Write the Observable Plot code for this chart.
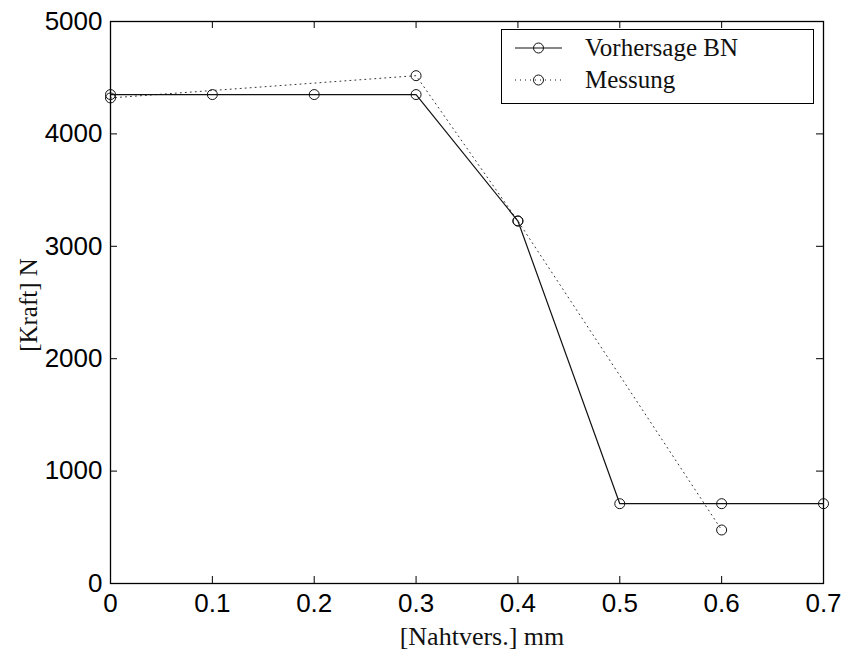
<!DOCTYPE html>
<html>
<head>
<meta charset="utf-8">
<script src="https://cdn.jsdelivr.net/npm/d3@7"></script>
<script src="https://cdn.jsdelivr.net/npm/@observablehq/plot@0.6"></script>
<style>
  html, body { margin: 0; padding: 0; background: #fff; }
  #wrap { position: relative; width: 844px; height: 650px; }
  #legend { position: absolute; left: 501px; top: 29px; width: 313px; height: 75px;
    border: 1.3px solid #000; background: #fff; box-sizing: border-box;
    font-family: "Liberation Serif", "Times New Roman", serif; font-size: 25px; color: #111; }
  .row { position: absolute; left: 0; height: 32px; display: flex; align-items: center; }
  .row svg { margin-left: 13px; margin-right: 22px; }
</style>
</head>
<body>
<div id="wrap"></div>
<script>
const xTicks = [0, 0.1, 0.2, 0.3, 0.4, 0.5, 0.6, 0.7];
const yTicks = [0, 1000, 2000, 3000, 4000, 5000];

const vorhersageX = [0, 0.1, 0.2, 0.3, 0.4, 0.5, 0.6, 0.7];
const vorhersageY = [4350, 4350, 4350, 4350, 3225, 710, 710, 710];

const messungX = [0, 0.3, 0.4, 0.6];
const messungY = [4320, 4518, 3225, 476];

const seriesNames = ["Vorhersage BN", "Messung"];
const xLabel = "[Nahtvers.] mm";
const yLabel = "[Kraft] N";

const vData = vorhersageX.map((x, i) => ({x, y: vorhersageY[i]}));
const mData = messungX.map((x, i) => ({x, y: messungY[i]}));

const W = 844, H = 650;
const mL = 110, mR = 21, mT = 21, mB = 67;
const pw = W - mL - mR, ph = H - mT - mB;
const tk = 7;
const sansFont = "'Liberation Sans', Arial, Helvetica, sans-serif";

const chart = Plot.plot({
  width: W, height: H,
  marginLeft: mL, marginRight: mR, marginTop: mT, marginBottom: mB,
  style: {fontFamily: sansFont, background: "#fff", color: "#000"},
  x: {domain: [0, 0.7], ticks: xTicks},
  y: {domain: [0, 5000], ticks: yTicks},
  marks: [
    Plot.axisX(xTicks, {tickSize: 0, tickPadding: 10, fontSize: 26, tickFormat: d => String(d), label: null, fill: "#000"}),
    Plot.axisY(yTicks, {tickSize: 0, tickPadding: 8, fontSize: 26, tickFormat: d => String(d), label: null, fill: "#000"}),
    // inward ticks on all four sides
    Plot.tickX(xTicks, {x: d => d, insetTop: ph - tk, stroke: "#000"}),
    Plot.tickX(xTicks, {x: d => d, insetBottom: ph - tk, stroke: "#000"}),
    Plot.tickY(yTicks, {y: d => d, insetRight: pw - tk, stroke: "#000"}),
    Plot.tickY(yTicks, {y: d => d, insetLeft: pw - tk, stroke: "#000"}),
    Plot.frame({stroke: "#000", strokeWidth: 1.3}),
    Plot.line(mData, {x: "x", y: "y", stroke: "#333", strokeWidth: 1, strokeDasharray: "1,4"}),
    Plot.line(vData, {x: "x", y: "y", stroke: "#111", strokeWidth: 1.2}),
    Plot.dot(mData, {x: "x", y: "y", r: 5, stroke: "#111", fill: "none", strokeWidth: 1}),
    Plot.dot(vData, {x: "x", y: "y", r: 5, stroke: "#111", fill: "none", strokeWidth: 1})
  ]
});

// axis titles as serif text
const svg = d3.select(chart.tagName === "svg" ? chart : chart.querySelector("svg"));
svg.append("text")
  .attr("x", 482).attr("y", 645)
  .attr("text-anchor", "middle")
  .attr("font-family", "'Liberation Serif', 'Times New Roman', serif")
  .attr("font-size", 26).attr("fill", "#111")
  .text(xLabel);
svg.append("text")
  .attr("transform", "translate(37,305) rotate(-90)")
  .attr("text-anchor", "middle")
  .attr("font-family", "'Liberation Serif', 'Times New Roman', serif")
  .attr("font-size", 25).attr("fill", "#111")
  .text(yLabel);

const wrap = document.getElementById("wrap");
wrap.appendChild(chart);

// legend
const legend = document.createElement("div");
legend.id = "legend";
const dashes = [null, "1,4"];
seriesNames.forEach((name, i) => {
  const row = document.createElement("div");
  row.className = "row";
  row.style.top = (2 + i * 32) + "px";
  row.innerHTML = `<svg width="48" height="14"><line x1="0" y1="7" x2="47" y2="7" stroke="#111" stroke-width="1.1" ${dashes[i] ? `stroke-dasharray="${dashes[i]}"` : ""}/><circle cx="23.5" cy="7" r="5" fill="none" stroke="#111"/></svg><span>${name}</span>`;
  legend.appendChild(row);
});
wrap.appendChild(legend);
</script>
</body>
</html>
